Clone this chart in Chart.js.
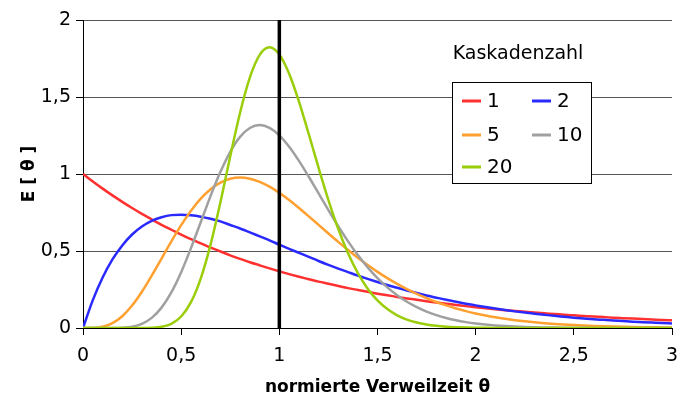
<!DOCTYPE html>
<html>
<head>
<meta charset="utf-8">
<script src="https://cdn.jsdelivr.net/npm/chart.js@4/dist/chart.umd.min.js"></script>
<style>
  body { margin: 0; background: #fff; }
  #wrap { width: 677px; height: 398px; }
</style>
</head>
<body>
<div id="wrap"><canvas id="rtdChart"></canvas></div>
<script>
// normierte Verweilzeit (x) und E-Kurven je Kaskadenzahl
const theta = [0, 0.05, 0.1, 0.15, 0.2, 0.25, 0.3, 0.35, 0.4, 0.45, 0.5, 0.55, 0.6, 0.65, 0.7, 0.75, 0.8, 0.85, 0.9, 0.95,
    1, 1.05, 1.1, 1.15, 1.2, 1.25, 1.3, 1.35, 1.4, 1.45, 1.5, 1.55, 1.6, 1.65, 1.7, 1.75, 1.8, 1.85, 1.9, 1.95,
    2, 2.05, 2.1, 2.15, 2.2, 2.25, 2.3, 2.35, 2.4, 2.45, 2.5, 2.55, 2.6, 2.65, 2.7, 2.75, 2.8, 2.85, 2.9, 2.95, 3]

const e1 = [1, .951, .905, .861, .819, .779, .741, .705, .670, .638, .607, .577, .549, .522, .497, .472, .449, .427, .407, .387,
    .368, .350, .333, .317, .301, .287, .273, .259, .247, .235, .223, .212, .202, .192, .183, .174, .165, .157, .150, .142,
    .135, .129, .122, .116, .111, .105, .100, .095, .091, .086, .082, .078, .074, .071, .067, .064, .061, .058, .055, .052, .050]

const e2 = [0, .181, .328, .445, .536, .607, .659, .696, .719, .733, .736, .732, .723, .709, .692, .669, .646, .621, .595, .569,
    .541, .514, .488, .462, .435, .410, .386, .363, .340, .319, .299, .279, .261, .244, .227, .211, .197, .183, .170, .158,
    .147, .136, .126, .117, .108, .100, .093, .086, .079, .073, .067, .062, .057, .053, .049, .045, .041, .038, .035, .032, .030]

const e5 = [0, .0006, .0079, .0311, .0766, .1457, .2353, .3396, .4511, .5628, .6680, .7617, .8402, .9012, .9441, .9689, .9768, .9695, .9490, .9176,
    .8773, .8305, .7791, .7249, .6693, .6137, .5591, .5064, .4561, .4088, .3646, .3237, .2863, .2521, .2213, .1935, .1687, .1466, .1270, .1097,
    .0946, .0813, .0697, .0597, .0509, .0434, .0369, .0313, .0265, .0224, .0190, .0160, .0134, .0113, .0095, .0080, .0067, .0056, .0046, .0039, .0032]

const e10 = [0, 0, 0, .0002, .0019, .0086, .0270, .0656, .1323, .2316, .3626, .5187, .6884, .8581, 1.0141, 1.1444, 1.2408, 1.2988, 1.3176, 1.3000,
    1.2512, 1.1773, 1.0853, .9821, .8737, .7652, .6606, .5627, .4735, .3938, .3241, .2641, .2131, .1705, .1353, .1065, .0833, .0646, .0498, .0382,
    .0291, .0220, .0166, .0125, .0093, .0069, .0051, .0037, .0027, .0020, .0015, .0011, .0008, .0006, .0004, .0003, .0002, .0001, .0001, .0001, 0]

const e20 = [0, 0, 0, 0, 0, 0, .0002, .0017, .0080, .0274, .0746, .1679, .3227, .5432, .8170, 1.1149, 1.3979, 1.6271, 1.7734, 1.8223,
    1.7765, 1.6515, 1.4705, 1.2588, 1.0396, .8306, .6438, .4852, .3562, .2552, .1788, .1227, .0825, .0544, .0353, .0225, .0142, .0088, .0054, .0032,
    .0019, .0011, .0007, .0004, .0002, .0001, 0, 0, 0, 0, 0, 0, 0, 0, 0, 0, 0, 0, 0, 0, 0]

// Markierung bei theta = 1
const markerX = [1, 1]
const markerY = [0, 2]

const FONT = 'DejaVu Sans'

const toPoints = (xs, ys) => xs.map((x, i) => ({ x: x, y: ys[i] }))

const curve = (label, values, color, order) => ({
    label: label,
    data: toPoints(theta, values),
    borderColor: color,
    backgroundColor: color,
    borderWidth: 2.5,
    pointRadius: 0,
    cubicInterpolationMode: 'monotone',
    order: order
})

// eigene Legende mit Rahmen und Überschrift "Kaskadenzahl"
const boxLegend = {
    id: 'boxLegend',
    afterDraw(chart) {
        const c = chart.ctx
        c.save()
        c.fillStyle = '#000'
        c.font = '19px ' + FONT
        c.textAlign = 'center'
        c.textBaseline = 'middle'
        c.fillText('Kaskadenzahl', 518, 54)

        c.fillStyle = '#fff'
        c.fillRect(452, 82, 139, 101)
        c.strokeStyle = '#000'
        c.lineWidth = 1
        c.strokeRect(452.5, 82.5, 139, 101)

        const items = chart.data.datasets.filter(d => d.label !== 'marker')
        const cols = [462, 532]
        const rows = [101, 135, 167]
        c.font = '20px ' + FONT
        c.textAlign = 'left'
        items.forEach((d, i) => {
            const x = cols[i % 2]
            const y = rows[Math.floor(i / 2)]
            c.strokeStyle = d.borderColor
            c.lineWidth = 3
            c.beginPath()
            c.moveTo(x, y)
            c.lineTo(x + 19, y)
            c.stroke()
            c.fillStyle = '#000'
            c.fillText(d.label, x + 25, y + 1)
        })
        c.restore()
    }
}

const ctx = document.getElementById('rtdChart').getContext('2d')
const rtdChart = new Chart(ctx, {
    type: 'line',
    data: {
        datasets: [
            curve('1', e1, '#ff3030', 5),
            curve('2', e2, '#2a2aff', 4),
            curve('5', e5, '#ffa030', 3),
            curve('10', e10, '#a0a0a0', 2),
            curve('20', e20, '#9acd0a', 1),
            {
                label: 'marker',
                data: toPoints(markerX, markerY),
                borderColor: '#000',
                borderWidth: 3.5,
                pointRadius: 0,
                order: 0
            }
        ]
    },
    options: {
        animation: false,
        responsive: true,
        maintainAspectRatio: false,
        layout: {
            padding: { top: 20, right: 5, left: 0, bottom: 0 }
        },
        plugins: {
            legend: { display: false },
            tooltip: { enabled: false }
        },
        scales: {
            x: {
                type: 'linear',
                min: 0,
                max: 3,
                afterFit: s => {
                    s.height = 70
                    s.paddingLeft = 0
                    s.paddingRight = 0
                },
                ticks: {
                    stepSize: 0.5,
                    color: '#000',
                    font: { family: FONT, size: 19 },
                    padding: 10,
                    maxRotation: 0,
                    callback: v => String(v).replace('.', ',')
                },
                grid: {
                    drawOnChartArea: false,
                    tickLength: 7,
                    color: '#000'
                },
                border: { color: '#000', width: 1 },
                title: {
                    display: true,
                    text: 'normierte Verweilzeit θ',
                    color: '#000',
                    font: { family: FONT, size: 17, weight: 'bold' },
                    padding: { top: 1, bottom: 0 }
                }
            },
            y: {
                min: 0,
                max: 2,
                afterFit: s => {
                    s.width = 83
                    s.paddingTop = 0
                    s.paddingBottom = 0
                },
                ticks: {
                    stepSize: 0.5,
                    color: '#000',
                    font: { family: FONT, size: 19 },
                    padding: 5,
                    callback: v => String(v).replace('.', ',')
                },
                grid: {
                    color: '#555',
                    tickColor: '#000',
                    tickLength: 7
                },
                border: { color: '#000', width: 1 },
                title: {
                    display: true,
                    text: 'E [ θ ]',
                    color: '#000',
                    font: { family: FONT, size: 17, weight: 'bold' },
                    padding: { top: 19, bottom: 0 }
                }
            }
        }
    },
    plugins: [boxLegend]
})
</script>
</body>
</html>
